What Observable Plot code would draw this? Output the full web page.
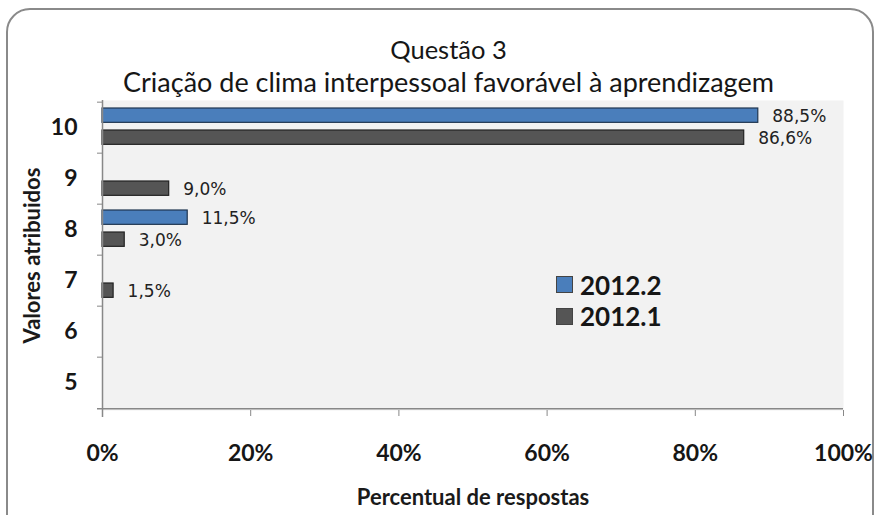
<!DOCTYPE html>
<html>
<head>
<meta charset="utf-8">
<script src="https://cdn.jsdelivr.net/npm/d3@7"></script>
<script src="https://cdn.jsdelivr.net/npm/@observablehq/plot@0.6"></script>
<style>
  html, body { margin: 0; padding: 0; background: #fff; }
  body { width: 883px; height: 515px; overflow: hidden; position: relative; font-family: Lato, "Open Sans", sans-serif; }
  #border { position: absolute; left: 6px; top: 8px; width: 868px; height: 530px; border: 2px solid #8a8a8a; border-radius: 24px; box-sizing: border-box; }
  #titles { position: relative; height: 97px; }
  .t { position: absolute; left: 7px; width: 883px; text-align: center; color: #161616; line-height: 1; }
  #chart { position: relative; }
  #chart svg { overflow: visible; }
  #legend { position: absolute; left: 556px; top: 269px; font-size: 26px; font-weight: bold; color: #161616; }
  .li { display: flex; align-items: center; height: 31.5px; }
  .sw { width: 17px; height: 17px; margin-right: 7px; box-sizing: border-box; border: 1px solid #444; }
</style>
</head>
<body>
<div id="border"></div>
<div id="titles">
  <div class="t" style="top:37px; font-size:25.5px">Questão 3</div>
  <div class="t" style="top:68px; font-size:27px">Criação de clima interpessoal favorável à aprendizagem</div>
</div>
<div id="chart"></div>
<div id="legend"></div>
<script>
const categories = [10, 9, 8, 7, 6, 5];
const series = ["2012.2", "2012.1"];
const colors = ["#4a7ebb", "#555555"];
const values2012_2 = [88.5, 0, 11.5, 0, 0, 0];
const values2012_1 = [86.6, 9.0, 3.0, 1.5, 0, 0];
const xTicks = [0, 20, 40, 60, 80, 100];
const xLabel = "Percentual de respostas";
const yLabel = "Valores atribuidos";

const rows = [];
categories.forEach((c, i) => {
  rows.push({cat: c, serie: series[0], value: values2012_2[i]});
  rows.push({cat: c, serie: series[1], value: values2012_1[i]});
});
const nz = rows.filter(d => d.value > 0);
const s2 = nz.filter(d => d.serie === series[0]);
const s1 = nz.filter(d => d.serie === series[1]);

const W = 883, H = 418, mL = 102, mR = 40, mT = 3, mB = 105;
const bw = (H - mT - mB) / categories.length;
const fmt = v => v.toFixed(1).replace(".", ",") + "%";
const labelFont = "'DejaVu Sans', Verdana, sans-serif";

const plot = Plot.plot({
  width: W, height: H,
  marginLeft: mL, marginRight: mR, marginTop: mT, marginBottom: mB,
  style: {fontFamily: "Lato, 'Open Sans', sans-serif", background: "transparent", color: "#161616", overflow: "visible"},
  x: {domain: [0, 100]},
  y: {domain: categories, padding: 0},
  color: {domain: series, range: colors},
  marks: [
    Plot.frame({fill: "#f2f2f2", stroke: null}),
    Plot.barX(s2, {y: "cat", x: "value", fill: "serie", stroke: "#1f3550", strokeWidth: 1.2, insetTop: 6, insetBottom: bw - 21}),
    Plot.barX(s1, {y: "cat", x: "value", fill: "serie", stroke: "#222", strokeWidth: 1.2, insetTop: 28, insetBottom: bw - 43}),
    Plot.text(s2, {y: "cat", x: "value", text: d => fmt(d.value), textAnchor: "start", dx: 14, dy: -11, fontSize: 17, fontFamily: labelFont, fill: "#222"}),
    Plot.text(s1, {y: "cat", x: "value", text: d => fmt(d.value), textAnchor: "start", dx: 14, dy: 10.5, fontSize: 17, fontFamily: labelFont, fill: "#222"}),
    Plot.ruleX([0], {stroke: "#888", strokeWidth: 1.5, insetBottom: -7}),
    Plot.ruleY([categories[categories.length - 1]], {dy: bw / 2, stroke: "#888", strokeWidth: 1.5, insetLeft: -5}),
    Plot.axisY({tickSize: 0, tickPadding: 25, fontSize: 23, fontWeight: "bold", label: null}),
    Plot.axisY({tickSize: 5, tickFormat: () => "", dy: -bw / 2, stroke: "#888", label: null}),
    Plot.axisX({ticks: xTicks, tickSize: 6, tickPadding: 28, fontSize: 23, fontWeight: "bold", stroke: "#888", tickFormat: d => d + "%", label: null}),
    Plot.text([xLabel], {frameAnchor: "bottom", textAnchor: "middle", lineAnchor: "middle", dx: 0, dy: 87, fontSize: 22, fontWeight: "bold", fill: "#1a1a1a"}),
    Plot.text([yLabel], {frameAnchor: "left", textAnchor: "middle", lineAnchor: "middle", dx: -70, dy: 0, rotate: -90, fontSize: 22, fontWeight: "bold", fill: "#1a1a1a"})
  ]
});
document.getElementById("chart").appendChild(plot);

const legend = document.getElementById("legend");
series.forEach((s, i) => {
  const row = document.createElement("div");
  row.className = "li";
  const sw = document.createElement("span");
  sw.className = "sw";
  sw.style.background = colors[i];
  const tx = document.createElement("span");
  tx.textContent = s;
  row.appendChild(sw); row.appendChild(tx);
  legend.appendChild(row);
});
</script>
</body>
</html>
